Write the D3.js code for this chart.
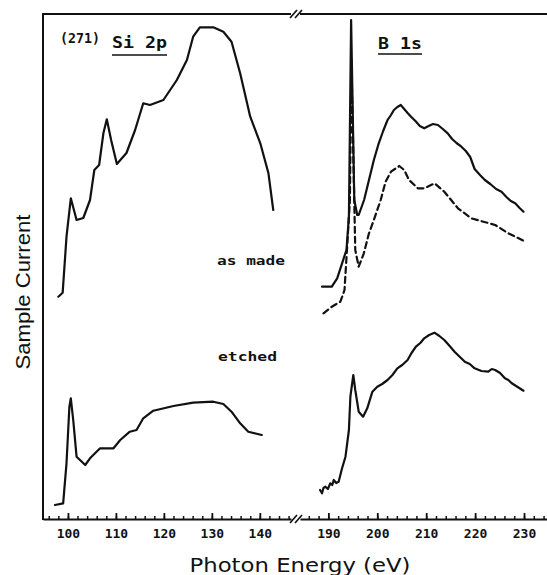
<!DOCTYPE html>
<html><head><meta charset="utf-8">
<script src="https://cdn.jsdelivr.net/npm/d3@7"></script>
<style>body{margin:0;background:#fff}svg{display:block}</style>
</head><body><svg id="c" width="547" height="575"></svg>
<script>
// ---- tick labels ----
const siTickLabels = [100, 110, 120, 130, 140];
const bTickLabels = [190, 200, 210, 220, 230];
const siMinorTicks = d3.range(96, 147, 2);
const bMinorTicks = d3.range(186, 235, 2);

// ---- Si 2p, as made (solid, top) ----
const siAsMadeE = [98.0, 98.9, 99.7, 100.6, 101.8, 103.2, 104.6, 105.5, 106.5, 107.4, 108.1, 109.0, 110.2, 112.2, 114.0, 115.7, 117.1, 119.9, 122.7, 124.8, 126.1, 127.5, 130.3, 132.4, 134.1, 135.9, 138.0, 140.1, 141.8, 142.8];
const siAsMadeY = [222.3, 226.3, 282.3, 320.7, 299, 301, 319, 349, 354, 386, 399.7, 379, 355, 366, 389, 415.7, 414, 419, 439, 459, 482.3, 491.7, 491.7, 487.3, 477.3, 445.7, 402.3, 375.7, 345.7, 309];

// ---- Si 2p, etched (solid, bottom) ----
const siEtchedE = [97.3, 99.0, 99.7, 100.3, 100.6, 101.1, 101.8, 102.9, 103.6, 104.6, 106.7, 109.5, 110.9, 112.9, 114.3, 115.7, 117.8, 122.0, 126.1, 130.3, 132.4, 134.1, 135.9, 137.6, 140.4];
const siEtchedY = [14, 15.7, 55.7, 112.3, 120.7, 99, 62.3, 57.3, 54, 60.7, 70.7, 70.7, 79, 87.3, 89, 100.7, 108.3, 113, 116.3, 117.3, 115, 107.3, 95.7, 87.3, 84];

// ---- B 1s, as made (solid, top) ----
const bAsMadeE = [188.7, 190.7, 191.8, 192.8, 193.7, 194.2, 194.65, 195.3, 195.9, 196.2, 197.3, 198.3, 199.3, 200.3, 201.2, 202.1, 202.8, 203.4, 204.1, 204.8, 205.5, 206.2, 206.9, 207.8, 208.7, 209.6, 210.5, 211.4, 212.4, 213.4, 214.4, 215.3, 216.2, 217.2, 218.1, 219.0, 219.9, 221.0, 222.0, 223.1, 224.3, 225.4, 226.4, 227.3, 228.2, 229.1, 229.9];
const bAsMadeY = [232.3, 232.3, 240.7, 255.7, 269, 302.3, 499, 319, 304, 304, 319, 339, 359, 375.7, 388, 399, 404, 409, 412, 414, 410, 406, 402.3, 398, 393, 390.7, 393, 395, 394, 390, 385.7, 380, 376, 372.3, 368, 362, 350, 344, 339, 335, 330, 327.3, 322, 318, 315.7, 311, 307.3];

// ---- B 1s, second trace (dashed) ----
const bDashedE = [189.0, 190.7, 192.45, 193.3, 193.8, 194.4, 194.7, 195.5, 196.2, 197.25, 198.3, 199.3, 200.7, 201.7, 202.8, 204.5, 205.5, 206.5, 208.3, 209.6, 211.7, 213.7, 216.5, 219.2, 221.7, 224.1, 226.8, 229.9];
const bDashedY = [205.7, 212.3, 217.3, 229, 269, 319, 459, 269, 252.3, 265.7, 285.7, 299, 319, 337.3, 347.3, 353, 349, 339, 330.7, 330.7, 335.7, 327.3, 310.7, 300.7, 297.3, 294, 285.7, 278.3];

// ---- B 1s, etched (solid, bottom) ----
const bEtchedE = [188.3, 188.7, 189.0, 189.4, 189.9, 190.4, 190.8, 191.1, 191.6, 192.1, 192.8, 193.5, 194.2, 194.5, 195.1, 195.5, 196.2, 197.1, 197.95, 199.0, 200.0, 201.0, 202.1, 203.1, 204.1, 205.1, 206.2, 207.0, 207.9, 208.8, 209.6, 210.6, 211.7, 212.7, 213.7, 214.8, 215.8, 216.9, 217.9, 218.9, 219.9, 221.3, 222.7, 223.4, 224.1, 225.1, 226.1, 226.8, 227.5, 228.7, 229.9];
const bEtchedY = [29, 25.7, 31, 32.3, 30, 35.7, 34, 39, 36, 37.3, 50.7, 62.3, 89, 122.3, 144, 129, 107.3, 102.3, 110.7, 127.3, 132.3, 135, 139, 144, 150.7, 154, 159, 166, 172.3, 176, 180.7, 184, 186.3, 183, 179, 173, 167.3, 162, 157.3, 155, 150.7, 148, 147.3, 150, 149, 146, 140.7, 139, 135.7, 132, 128.3];

const svg = d3.select("#c");
const axLeft = 43, axTop = 14, axBottom = 519;
const xL = d3.scaleLinear().domain([94.8, 146.5]).range([43, 291]);
const xR = d3.scaleLinear().domain([184.2, 234.7]).range([300, 547]);
const y = d3.scaleLinear().domain([0, 505]).range([axBottom, axTop]);

const ink = "#111";
const plotFont = "'DejaVu Sans Mono', monospace";

function zip(E, Y) { return E.map((e, i) => [e, Y[i]]); }

function drawAxis(scale, minor, major) {
  const gMin = svg.append("g").attr("transform", `translate(0,${axBottom})`)
    .call(d3.axisBottom(scale).tickValues(minor).tickSizeInner(-3).tickSizeOuter(0).tickFormat(""));
  gMin.select(".domain").attr("stroke", ink).attr("stroke-width", 2);
  gMin.selectAll(".tick line").attr("stroke", ink).attr("stroke-width", 1.5);
  const gMaj = svg.append("g").attr("transform", `translate(0,${axBottom})`)
    .call(d3.axisBottom(scale).tickValues(major).tickSizeInner(-6).tickSizeOuter(0).tickPadding(10).tickFormat(d3.format("d")));
  gMaj.select(".domain").remove();
  gMaj.selectAll(".tick line").attr("stroke", ink).attr("stroke-width", 1.8);
  gMaj.selectAll(".tick text").attr("fill", ink).attr("font-family", plotFont)
    .attr("font-weight", "bold").attr("font-size", 13);
}
drawAxis(xL, siMinorTicks, siTickLabels);
drawAxis(xR, bMinorTicks, bTickLabels);

svg.append("line").attr("x1", axLeft).attr("x2", xL.range()[1]).attr("y1", axTop).attr("y2", axTop).attr("stroke", ink).attr("stroke-width", 2);
svg.append("line").attr("x1", xR.range()[0]).attr("x2", 547).attr("y1", axTop).attr("y2", axTop).attr("stroke", ink).attr("stroke-width", 2);
svg.append("line").attr("x1", axLeft).attr("x2", axLeft).attr("y1", axTop - 1).attr("y2", axBottom + 1).attr("stroke", ink).attr("stroke-width", 2);

[axBottom, axTop].forEach(yy => {
  [290, 295].forEach(bx => {
    svg.append("line").attr("x1", bx).attr("y1", yy + 4).attr("x2", bx + 7).attr("y2", yy - 4)
      .attr("stroke", ink).attr("stroke-width", 1.6);
  });
});

const lineL = d3.line().x(d => xL(d[0])).y(d => y(d[1]));
const lineR = d3.line().x(d => xR(d[0])).y(d => y(d[1]));
function path(gen, data, dash) {
  svg.append("path").datum(data).attr("d", gen).attr("fill", "none").attr("stroke", ink)
    .attr("stroke-width", 2.2).attr("stroke-linejoin", "round").attr("stroke-linecap", "round")
    .attr("stroke-dasharray", dash || null);
}
path(lineL, zip(siAsMadeE, siAsMadeY));
path(lineL, zip(siEtchedE, siEtchedY));
path(lineR, zip(bDashedE, bDashedY), "6,4");
path(lineR, zip(bAsMadeE, bAsMadeY));
path(lineR, zip(bEtchedE, bEtchedY));

function txt(x, yy, s, size, opts = {}) {
  const t = svg.append("text").attr("x", x).attr("y", yy).text(s)
    .attr("font-family", opts.family || plotFont).attr("font-size", size)
    .attr("font-weight", opts.weight || "bold").attr("fill", ink);
  if (opts.len) t.attr("textLength", opts.len).attr("lengthAdjust", "spacingAndGlyphs");
  if (opts.anchor) t.attr("text-anchor", opts.anchor);
  return t;
}
txt(60, 43, "(271)", 14, { len: 40 });
txt(112, 48, "Si 2p", 15, { len: 55 });
svg.append("line").attr("x1", 112).attr("x2", 167).attr("y1", 55).attr("y2", 55).attr("stroke", ink).attr("stroke-width", 1.3);
txt(378, 49, "B 1s", 15, { len: 44 });
svg.append("line").attr("x1", 378).attr("x2", 422).attr("y1", 54).attr("y2", 54).attr("stroke", ink).attr("stroke-width", 1.3);
txt(217, 265, "as made", 13, { len: 68 });
txt(218, 361, "etched", 13, { len: 59 });

txt(300, 572, "Photon Energy (eV)", 19, { family: "'DejaVu Sans', sans-serif", weight: "normal", len: 221, anchor: "middle" });
svg.append("text").attr("transform", "translate(30,292) rotate(-90)")
  .attr("text-anchor", "middle").attr("font-family", "'Liberation Sans', Arial, sans-serif")
  .attr("font-size", 20).attr("fill", ink).attr("textLength", 155).attr("lengthAdjust", "spacingAndGlyphs")
  .text("Sample Current");
</script>
</body></html>
